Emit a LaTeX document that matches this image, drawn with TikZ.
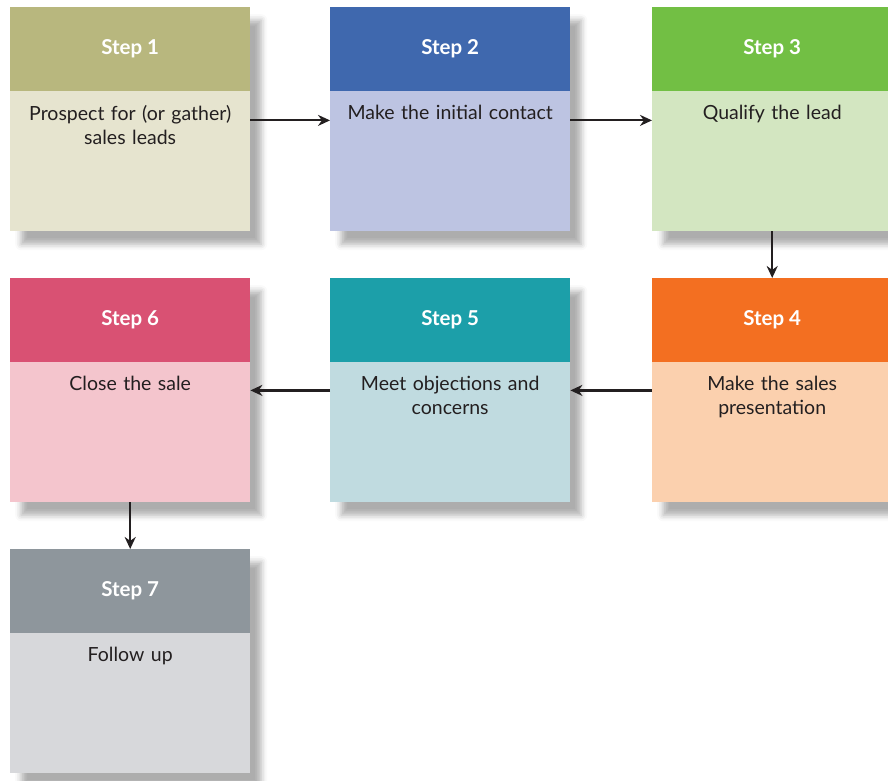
\documentclass[tikz,border=0pt]{standalone}
\usepackage{fontspec}
\setmainfont{Lato}
\usetikzlibrary{shadows.blur,arrows.meta}
\definecolor{txt}{HTML}{231F20}
\definecolor{hA}{HTML}{B8B77E}\definecolor{bA}{HTML}{E6E4CF}
\definecolor{hB}{HTML}{3F68AE}\definecolor{bB}{HTML}{BDC4E2}
\definecolor{hC}{HTML}{72BF44}\definecolor{bC}{HTML}{D3E6C1}
\definecolor{hD}{HTML}{F36F21}\definecolor{bD}{HTML}{FBD0AE}
\definecolor{hE}{HTML}{1C9FA9}\definecolor{bE}{HTML}{C0DBE0}
\definecolor{hF}{HTML}{D95173}\definecolor{bF}{HTML}{F4C5CD}
\definecolor{hG}{HTML}{8E969C}\definecolor{bG}{HTML}{D7D8DB}
\tikzset{
  box/.style={rectangle, minimum width=240pt, minimum height=224pt, inner sep=0pt,
    anchor=north west,
    blur shadow={shadow xshift=11pt, shadow yshift=-13pt, shadow blur radius=6pt, shadow opacity=32}},
  head/.style={rectangle, minimum width=240pt, minimum height=84pt, inner sep=0pt,
    anchor=north west, text=white, font=\fontsize{20.5}{24}\selectfont\bfseries},
  body/.style={text width=232pt, align=center, anchor=north, inner sep=0pt,
    text=txt, font=\fontsize{19.5}{24}\selectfont},
  arr/.style={draw=txt, line width=2.2pt, -{Stealth[length=12pt,width=11pt]}}
}
\begin{document}
\begin{tikzpicture}[x=1pt,y=-1pt]
\useasboundingbox (0,0) rectangle (888,781);
% row 1
\node[box, fill=bA] (s1) at (10,7) {};
\node[head, fill=hA] (h1) at (s1.north west) {Step 1};
\node[body] (t1) at ([yshift=-14pt]h1.south) {Prospect for (or gather)\\sales leads};
\node[box, fill=bB] (s2) at (330,7) {};
\node[head, fill=hB] (h2) at (s2.north west) {Step 2};
\node[body] (t2) at ([yshift=-14pt]h2.south) {Make the initial contact};
\node[box, fill=bC] (s3) at (652,7) {};
\node[head, fill=hC] (h3) at (s3.north west) {Step 3};
\node[body] (t3) at ([yshift=-14pt]h3.south) {Qualify the lead};
% row 2
\node[box, fill=bD] (s4) at (652,278) {};
\node[head, fill=hD] (h4) at (s4.north west) {Step 4};
\node[body] (t4) at ([yshift=-14pt]h4.south) {Make the sales\\presentation};
\node[box, fill=bE] (s5) at (330,278) {};
\node[head, fill=hE] (h5) at (s5.north west) {Step 5};
\node[body] (t5) at ([yshift=-14pt]h5.south) {Meet objections and\\concerns};
\node[box, fill=bF] (s6) at (10,278) {};
\node[head, fill=hF] (h6) at (s6.north west) {Step 6};
\node[body] (t6) at ([yshift=-14pt]h6.south) {Close the sale};
% row 3
\node[box, fill=bG] (s7) at (10,549) {};
\node[head, fill=hG] (h7) at (s7.north west) {Step 7};
\node[body] (t7) at ([yshift=-14pt]h7.south) {Follow up};
% arrows
\draw[arr] ([yshift=-29pt]h1.south east) -- ([yshift=-29pt]h2.south west);
\draw[arr] ([yshift=-29pt]h2.south east) -- ([yshift=-29pt]h3.south west);
\draw[arr] (s3.south) -- (s4.north);
\draw[arr] ([yshift=-28pt]h4.south west) -- ([yshift=-28pt]h5.south east);
\draw[arr] ([yshift=-28pt]h5.south west) -- ([yshift=-28pt]h6.south east);
\draw[arr] (s6.south) -- (s7.north);
\end{tikzpicture}
\end{document}
